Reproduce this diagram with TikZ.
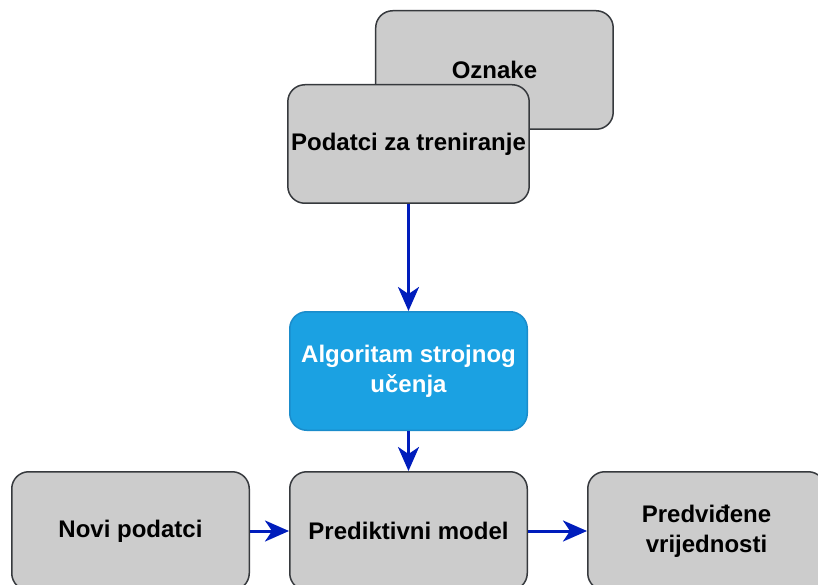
\documentclass[tikz,border=0pt]{standalone}
\usepackage{fontspec}
\setmainfont{Liberation Sans}
\usepackage{xcolor}
\usepackage{tikz}
\usetikzlibrary{arrows.meta,positioning,backgrounds}
\definecolor{boxgray}{HTML}{CCCCCC}
\definecolor{edge}{HTML}{36393D}
\definecolor{skyblue}{HTML}{1BA1E2}
\definecolor{skyedge}{HTML}{1A8CCB}
\definecolor{arrowblue}{HTML}{001DBC}

\begin{document}
\begin{tikzpicture}[
  x=1pt, y=1pt,
  font=\fontsize{24}{30}\selectfont\bfseries,
  box/.style={draw=edge, fill=boxgray, line width=1.5pt, rounded corners=17pt, minimum width=237.5pt, minimum height=118.5pt, align=center},
  algbox/.style={box, draw=skyedge, fill=skyblue, text=white},
  arr/.style={-{Stealth[length=24pt, width=21pt, inset=7pt]}, line width=3pt, arrowblue}
]
\clip (0,0) rectangle (818,-585);
\node[box] (model) at (408.5,-531) {Prediktivni model};
\node[box, left=39pt of model] (novi) {Novi podatci};
\node[box, right=59pt of model] (pred) {Predviđene\\vrijednosti};
\node[algbox, above=40pt of model] (algo) {Algoritam strojnog\\učenja};
\node[box, above=107pt of algo] (train) {Podatci za treniranje};
\begin{scope}[on background layer]
\node[box, above right=-46pt and -155pt of train] (labels) {Oznake};
\end{scope}
\draw[arr] (train) -- (algo);
\draw[arr] (algo) -- (model);
\draw[arr] (novi) -- (model);
\draw[arr] (model) -- (pred);
\end{tikzpicture}
\end{document}
